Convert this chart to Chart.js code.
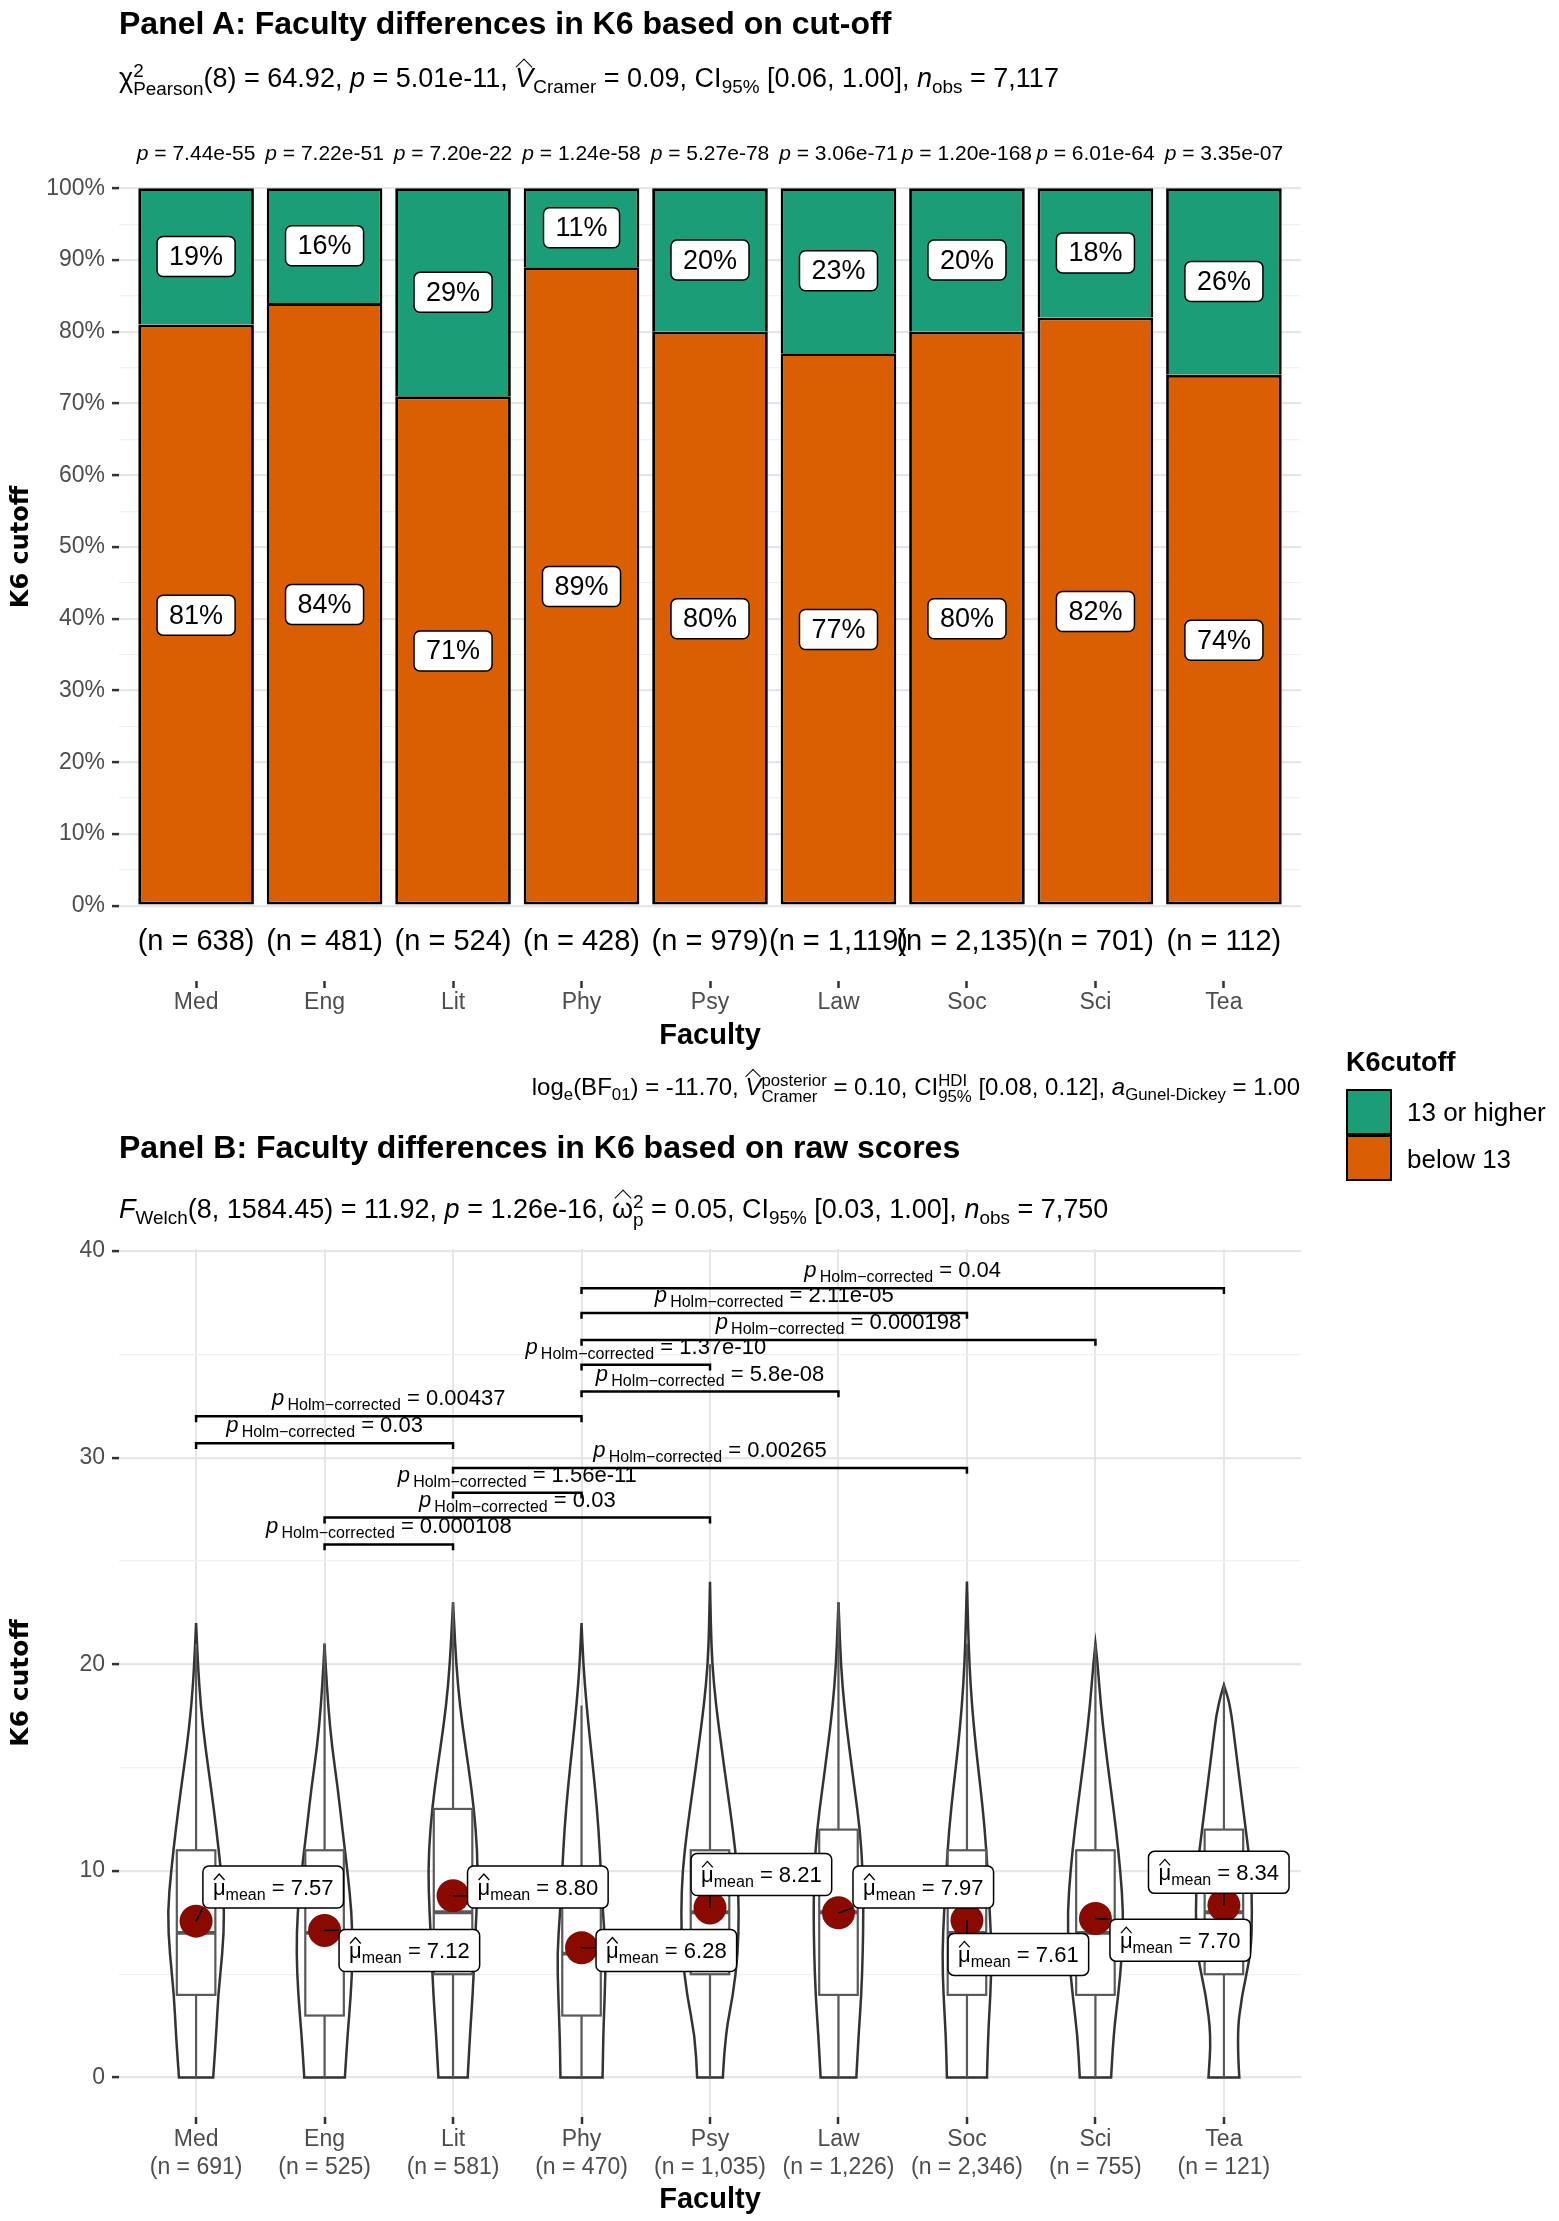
<!DOCTYPE html>
<html>
<head>
<meta charset="utf-8">
<title>K6 by faculty</title>
<script src="https://cdn.jsdelivr.net/npm/chart.js@4.4.1/dist/chart.umd.min.js"></script>
<style>
  html, body { margin: 0; padding: 0; background: #fff; }
  body { position: relative; width: 1559px; height: 2221px; overflow: hidden;
         font-family: "Liberation Sans", Arial, sans-serif; color: #000; }
  canvas { position: absolute; left: 0; }
  .txt { position: absolute; white-space: nowrap; line-height: 1; z-index: 2; }
  .ttl { font-size: 32px; font-weight: bold; }
  .stat { font-size: 27px; }
  .cap { font-size: 24px; }
  sub { font-size: 0.7em; vertical-align: -0.3em; line-height: 1; }
  .ss { display: inline-flex; flex-direction: column; font-size: 0.7em; line-height: 0.95; vertical-align: 0.55em; }
  .wh { position: relative; display: inline-block; }
  .wh::after { content: ""; position: absolute; left: 50%; top: -0.17em; width: 0.4em; height: 0.4em;
               border-top: 1.5px solid #000; border-left: 1.5px solid #000;
               transform: translateX(-50%) rotate(45deg); }
  .key { position: absolute; width: 42px; height: 42px; border: 2px solid #000; z-index: 2; }
</style>
</head>
<body>
<canvas id="panelA" width="1559" height="1130" style="top:0"></canvas>
<canvas id="panelB" width="1559" height="1091" style="top:1130px"></canvas>

<div class="txt ttl" style="left:119px;top:7px">Panel A: Faculty differences in K6 based on cut-off</div>
<div class="txt stat" style="left:119px;top:62px">χ<span class="ss"><span>2</span><span>Pearson</span></span>(8) = 64.92, <i>p</i> = 5.01e-11, <span class="wh"><i>V</i></span><sub>Cramer</sub> = 0.09, CI<sub>95%</sub> [0.06, 1.00], <i>n</i><sub>obs</sub> = 7,117</div>
<div class="txt cap" style="right:259px;top:1073px">log<sub>e</sub>(BF<sub>01</sub>) = -11.70, <span class="wh"><i>V</i></span><span class="ss"><span>posterior</span><span>Cramer</span></span> = 0.10, CI<span class="ss"><span>HDI</span><span>95%</span></span> [0.08, 0.12], <i>a</i><sub>Gunel-Dickey</sub> = 1.00</div>

<div class="txt" style="left:1346px;top:1049px;font-size:27px;font-weight:bold">K6cutoff</div>
<div class="key" style="left:1346px;top:1089px;background:#1B9E77"></div>
<div class="key" style="left:1346px;top:1135px;background:#D95F02"></div>
<div class="txt" style="left:1407px;top:1099px;font-size:26px">13 or higher</div>
<div class="txt" style="left:1407px;top:1146px;font-size:26px">below 13</div>

<div class="txt ttl" style="left:119px;top:1131px">Panel B: Faculty differences in K6 based on raw scores</div>
<div class="txt stat" style="left:119px;top:1193px"><i>F</i><sub>Welch</sub>(8, 1584.45) = 11.92, <i>p</i> = 1.26e-16, <span class="wh">ω</span><span class="ss"><span>2</span><span>p</span></span> = 0.05, CI<sub>95%</sub> [0.03, 1.00], <i>n</i><sub>obs</sub> = 7,750</div>

<script>
const SANS = '"Liberation Sans", Arial, sans-serif';
Chart.defaults.font.family = SANS;
Chart.defaults.color = '#4D4D4D';

// ---- data ----
const faculties = ['Med', 'Eng', 'Lit', 'Phy', 'Psy', 'Law', 'Soc', 'Sci', 'Tea'];

// Panel A: share of students (%)
const pctBelow13 = [81, 84, 71, 89, 80, 77, 80, 82, 74];
const pctHigher = [19, 16, 29, 11, 20, 23, 20, 18, 26];
const pValues = ['7.44e-55', '7.22e-51', '7.20e-22', '1.24e-58', '5.27e-78', '3.06e-71', '1.20e-168', '6.01e-64', '3.35e-07'];
const nCutoff = ['638', '481', '524', '428', '979', '1,119', '2,135', '701', '112'];

// Panel B: raw K6 scores
const nRaw = ['691', '525', '581', '470', '1,035', '1,226', '2,346', '755', '121'];
const means = [7.57, 7.12, 8.80, 6.28, 8.21, 7.97, 7.61, 7.70, 8.34];
const q1 = [4, 3, 5, 3, 5, 4, 4, 4, 5];
const median = [7, 7, 8, 6, 8, 8, 7, 7, 8];
const q3 = [11, 11, 13, 9, 11, 12, 11, 11, 12];
const whiskerLo = [0, 0, 0, 0, 0, 0, 0, 0, 0];
const whiskerHi = [21, 21, 23, 18, 20, 23, 21, 21, 19];
const dataMax = [22, 21, 23, 22, 24, 23, 24, 21, 19];

// violin half-width (in category widths) at these score levels
const violinLevels = [0, 2, 4, 6, 8, 10, 12, 14, 16, 18, 20, 22];
const violinHalfWidth = [
  [.133, .156, .172, .205, .222, .194, .158, .117, .072, .036, .014],
  [.158, .178, .205, .219, .211, .178, .139, .103, .058, .028, .008],
  [.114, .131, .153, .167, .183, .194, .178, .144, .097, .053, .025, .008],
  [.164, .169, .181, .189, .167, .150, .133, .106, .072, .039, .014],
  [.100, .117, .180, .217, .225, .214, .178, .133, .089, .047, .017, .006],
  [.139, .156, .178, .189, .194, .189, .167, .125, .083, .044, .019, .006],
  [.156, .164, .183, .192, .178, .161, .139, .106, .069, .039, .019, .008],
  [.122, .139, .178, .208, .217, .194, .161, .119, .078, .042, .017],
  [.120, .100, .140, .210, .220, .210, .170, .130, .090, .050]
];

// pairwise comparisons (indices into faculties)
const compFrom = [3, 3, 3, 3, 3, 0, 0, 2, 2, 1, 1];
const compTo = [8, 6, 7, 4, 5, 3, 2, 6, 3, 4, 2];
const compY = [38.2, 37.0, 35.7, 34.5, 33.2, 32.0, 30.7, 29.5, 28.3, 27.1, 25.8];
const compP = ['0.04', '2.11e-05', '0.000198', '1.37e-10', '5.8e-08', '0.00437', '0.03', '0.00265', '1.56e-11', '0.03', '0.000108'];

// where the mean labels were pushed to (offset from the mean point, in x-units / score units)
const meanLabelNudge = [[0.60, 1.65], [0.66, -0.97], [0.66, 0.42], [0.66, -0.13], [0.40, 1.62],
                        [0.66, 1.25], [0.40, -1.65], [0.66, -1.05], [-0.04, 1.59]];

// ---- helpers ----
function roundRect(ctx, x, y, w, h, r) {
  ctx.beginPath();
  ctx.moveTo(x + r, y);
  ctx.arcTo(x + w, y, x + w, y + h, r);
  ctx.arcTo(x + w, y + h, x, y + h, r);
  ctx.arcTo(x, y + h, x, y, r);
  ctx.arcTo(x, y, x + w, y, r);
  ctx.closePath();
}
function labelBox(ctx, cx, cy, w, h) {
  roundRect(ctx, cx - w / 2, cy - h / 2, w, h, 6);
  ctx.fillStyle = '#fff';
  ctx.fill();
  ctx.lineWidth = 1.5;
  ctx.strokeStyle = '#000';
  ctx.stroke();
}
function measureRun(ctx, parts) {
  let total = 0;
  parts.forEach(p => { ctx.font = p.font; p.w = ctx.measureText(p.text).width; total += p.w; });
  return total;
}
// draws text pieces centred on x, baseline y
function textRun(ctx, parts, x, y) {
  const total = measureRun(ctx, parts);
  let cx = x - total / 2;
  ctx.textAlign = 'left';
  ctx.textBaseline = 'alphabetic';
  ctx.fillStyle = '#000';
  parts.forEach(p => { ctx.font = p.font; ctx.fillText(p.text, cx, y + (p.dy || 0)); p.x = cx; cx += p.w; });
  return parts;
}
function smooth(ctx, pts, move) {
  if (move) ctx.moveTo(pts[0].x, pts[0].y); else ctx.lineTo(pts[0].x, pts[0].y);
  for (let k = 1; k < pts.length - 1; k++) {
    const mx = (pts[k].x + pts[k + 1].x) / 2, my = (pts[k].y + pts[k + 1].y) / 2;
    ctx.quadraticCurveTo(pts[k].x, pts[k].y, mx, my);
  }
  const last = pts[pts.length - 1];
  ctx.lineTo(last.x, last.y);
}

// ---- panel A ----
const panelALabels = {
  id: 'panelALabels',
  afterDatasetsDraw(chart) {
    const { ctx } = chart;
    const x = chart.scales.x, y = chart.scales.y;
    ctx.save();
    faculties.forEach((f, i) => {
      const px = x.getPixelForValue(i);
      const segs = [[pctBelow13[i], pctBelow13[i] / 2], [pctHigher[i], pctBelow13[i] + pctHigher[i] / 2]];
      segs.forEach(([v, mid]) => {
        const py = y.getPixelForValue(mid);
        ctx.font = '27px ' + SANS;
        const t = v + '%';
        const w = ctx.measureText(t).width + 24;
        labelBox(ctx, px, py, w, 40);
        ctx.fillStyle = '#000';
        ctx.textAlign = 'center';
        ctx.textBaseline = 'middle';
        ctx.fillText(t, px, py + 1);
      });
      ctx.font = '29px ' + SANS;
      ctx.textAlign = 'center';
      ctx.textBaseline = 'middle';
      ctx.fillStyle = '#000';
      ctx.fillText('(n = ' + nCutoff[i] + ')', px, y.getPixelForValue(-5));
      textRun(ctx, [{ text: 'p', font: 'italic 21px ' + SANS }, { text: ' = ' + pValues[i], font: '21px ' + SANS }],
        px, y.getPixelForValue(105) + 7.5);
    });
    ctx.restore();
  }
};

const isTen = v => Math.abs(v % 10) < 1e-9;

new Chart(document.getElementById('panelA'), {
  type: 'bar',
  data: {
    datasets: [
      { label: 'below 13', data: pctBelow13.map((v, i) => ({ x: i, y: v })),
        backgroundColor: '#D95F02', borderColor: '#000', borderWidth: 2.8, borderSkipped: false,
        barPercentage: 0.9, categoryPercentage: 1 },
      { label: '13 or higher', data: pctHigher.map((v, i) => ({ x: i, y: v })),
        backgroundColor: '#1B9E77', borderColor: '#000', borderWidth: 2.8, borderSkipped: 'start',
        barPercentage: 0.9, categoryPercentage: 1 }
    ]
  },
  options: {
    responsive: false, animation: false, events: [],
    layout: { padding: { left: 0, right: 258, top: 113, bottom: 0 } },
    plugins: { legend: { display: false }, tooltip: { enabled: false } },
    scales: {
      x: {
        type: 'linear', stacked: true, min: -0.6, max: 8.6, offset: false,
        afterBuildTicks: ax => { ax.ticks = faculties.map((f, i) => ({ value: i })); },
        afterFit: ax => { ax.height = 149; },
        grid: { display: true, drawOnChartArea: false, offset: false, tickLength: 7, tickWidth: 2.5, tickColor: '#333' },
        border: { display: false },
        ticks: { autoSkip: false, maxRotation: 0, padding: 1, font: { size: 23 }, callback: v => faculties[v] },
        title: { display: true, text: 'Faculty', color: '#000', font: { size: 29, weight: 'bold' }, padding: { top: 0, bottom: 77 } }
      },
      y: {
        stacked: true, min: -10.5, max: 110.5,
        afterBuildTicks: ax => { const t = []; for (let v = 0; v <= 100; v += 5) t.push({ value: v }); ax.ticks = t; },
        afterFit: ax => { ax.width = 119; },
        grid: {
          color: c => isTen(c.tick.value) ? '#E6E6E6' : '#F0F0F0',
          lineWidth: c => isTen(c.tick.value) ? 2.2 : 1.2,
          tickLength: 7, tickWidth: 2.5,
          tickColor: c => isTen(c.tick.value) ? '#333' : 'rgba(0,0,0,0)'
        },
        border: { display: false },
        ticks: { autoSkip: false, padding: 7, font: { size: 23 }, callback: v => isTen(v) ? v + '%' : '' },
        title: { display: true, text: 'K6 cutoff', color: '#000', font: { family: '"DejaVu Sans", sans-serif', size: 24, weight: 'bold' }, padding: { top: 7, bottom: 0 } }
      }
    }
  },
  plugins: [panelALabels]
});

// ---- panel B ----
const panelBShapes = {
  id: 'panelBShapes',
  beforeDatasetsDraw(chart) {
    const { ctx } = chart;
    const x = chart.scales.x, y = chart.scales.y;
    ctx.save();
    faculties.forEach((f, i) => {
      const right = [], left = [];
      violinLevels.forEach((lv, k) => {
        const w = violinHalfWidth[i][k];
        if (w == null || lv >= dataMax[i]) return;
        right.push({ x: x.getPixelForValue(i + w), y: y.getPixelForValue(lv) });
        left.push({ x: x.getPixelForValue(i - w), y: y.getPixelForValue(lv) });
      });
      const top = { x: x.getPixelForValue(i), y: y.getPixelForValue(dataMax[i]) };
      ctx.beginPath();
      smooth(ctx, [...right, top], true);
      smooth(ctx, [top, ...left.reverse()], false);
      ctx.closePath();
      ctx.lineWidth = 2.5;
      ctx.strokeStyle = '#333';
      ctx.stroke();

      const cx = x.getPixelForValue(i);
      const bx0 = x.getPixelForValue(i - 0.15), bx1 = x.getPixelForValue(i + 0.15);
      const yq1 = y.getPixelForValue(q1[i]), yq3 = y.getPixelForValue(q3[i]);
      ctx.strokeStyle = '#595959';
      ctx.lineWidth = 2.2;
      ctx.beginPath();
      ctx.moveTo(cx, yq3); ctx.lineTo(cx, y.getPixelForValue(whiskerHi[i]));
      ctx.moveTo(cx, yq1); ctx.lineTo(cx, y.getPixelForValue(whiskerLo[i]));
      ctx.stroke();
      ctx.fillStyle = '#fff';
      ctx.fillRect(bx0, yq3, bx1 - bx0, yq1 - yq3);
      ctx.strokeRect(bx0, yq3, bx1 - bx0, yq1 - yq3);
      ctx.lineWidth = 3.8;
      ctx.beginPath();
      ctx.moveTo(bx0, y.getPixelForValue(median[i])); ctx.lineTo(bx1, y.getPixelForValue(median[i]));
      ctx.stroke();
    });
    ctx.restore();
  },
  afterDatasetsDraw(chart) {
    const { ctx } = chart;
    const x = chart.scales.x, y = chart.scales.y;
    ctx.save();
    means.forEach((m, i) => {
      const px = x.getPixelForValue(i), py = y.getPixelForValue(m);
      const lx = x.getPixelForValue(i + meanLabelNudge[i][0]), ly = y.getPixelForValue(m + meanLabelNudge[i][1]);
      const parts = [
        { text: 'μ', font: '22px ' + SANS },
        { text: 'mean', font: '16px ' + SANS, dy: 5 },
        { text: ' = ' + m.toFixed(2), font: '22px ' + SANS }
      ];
      const w = measureRun(ctx, parts) + 20, h = 42;
      const nx = Math.max(lx - w / 2, Math.min(px, lx + w / 2));
      const ny = Math.max(ly - h / 2, Math.min(py, ly + h / 2));
      ctx.beginPath();
      ctx.moveTo(px, py); ctx.lineTo(nx, ny);
      ctx.strokeStyle = '#000'; ctx.lineWidth = 1.5; ctx.stroke();
      labelBox(ctx, lx, ly, w, h);
      const base = ly + 7.5;
      textRun(ctx, parts, lx, base);
      const mu = parts[0];
      ctx.beginPath();
      ctx.moveTo(mu.x + 1, base - 14.5);
      ctx.lineTo(mu.x + mu.w / 2, base - 20.5);
      ctx.lineTo(mu.x + mu.w - 1, base - 14.5);
      ctx.lineWidth = 1.3; ctx.strokeStyle = '#000'; ctx.stroke();
    });
    compFrom.forEach((a, k) => {
      const cx = (x.getPixelForValue(a) + x.getPixelForValue(compTo[k])) / 2;
      const by = y.getPixelForValue(compY[k]) - 11;
      textRun(ctx, [
        { text: 'p', font: 'italic 22px ' + SANS },
        { text: '\u2009Holm\u2212corrected', font: '16px ' + SANS, dy: 5 },
        { text: ' = ' + compP[k], font: '22px ' + SANS }
      ], cx, by);
    });
    ctx.restore();
  }
};

const bracketSets = compFrom.map((a, k) => ({
  data: [{ x: a, y: compY[k] - 0.28 }, { x: a, y: compY[k] }, { x: compTo[k], y: compY[k] }, { x: compTo[k], y: compY[k] - 0.28 }],
  showLine: true, borderColor: '#000', borderWidth: 2.5, pointRadius: 0, fill: false, tension: 0, order: 1
}));

new Chart(document.getElementById('panelB'), {
  type: 'scatter',
  data: {
    datasets: [
      ...bracketSets,
      { data: means.map((m, i) => ({ x: i, y: m })), pointRadius: 16.5, pointHoverRadius: 16.5,
        backgroundColor: '#8B0A00', borderWidth: 0, order: 2 }
    ]
  },
  options: {
    responsive: false, animation: false, events: [],
    layout: { padding: { left: 0, right: 258, top: 119, bottom: 0 } },
    plugins: { legend: { display: false }, tooltip: { enabled: false } },
    scales: {
      x: {
        type: 'linear', min: -0.6, max: 8.6, offset: false,
        afterBuildTicks: ax => { ax.ticks = faculties.map((f, i) => ({ value: i })); },
        afterFit: ax => { ax.height = 104; },
        grid: { color: '#E6E6E6', lineWidth: 2, tickLength: 7, tickWidth: 2.5, tickColor: '#333' },
        border: { display: false },
        ticks: { autoSkip: false, maxRotation: 0, padding: 2, font: { size: 23, lineHeight: 1.2 },
                 callback: v => [faculties[v], '(n = ' + nRaw[v] + ')'] },
        title: { display: true, text: 'Faculty', color: '#000', font: { size: 29, weight: 'bold' }, padding: { top: 0, bottom: 4 } }
      },
      y: {
        min: -1.91, max: 40.1,
        afterBuildTicks: ax => { const t = []; for (let v = 0; v <= 40; v += 5) t.push({ value: v }); ax.ticks = t; },
        afterFit: ax => { ax.width = 119; },
        grid: {
          color: c => isTen(c.tick.value) ? '#E6E6E6' : '#F0F0F0',
          lineWidth: c => isTen(c.tick.value) ? 2.2 : 1.2,
          tickLength: 7, tickWidth: 2.5,
          tickColor: c => isTen(c.tick.value) ? '#333' : 'rgba(0,0,0,0)'
        },
        border: { display: false },
        ticks: { autoSkip: false, padding: 7, font: { size: 23 }, callback: v => isTen(v) ? String(v) : '' },
        title: { display: true, text: 'K6 cutoff', color: '#000', font: { family: '"DejaVu Sans", sans-serif', size: 25, weight: 'bold' }, padding: { top: 6, bottom: 0 } }
      }
    }
  },
  plugins: [panelBShapes]
});
</script>
</body>
</html>
